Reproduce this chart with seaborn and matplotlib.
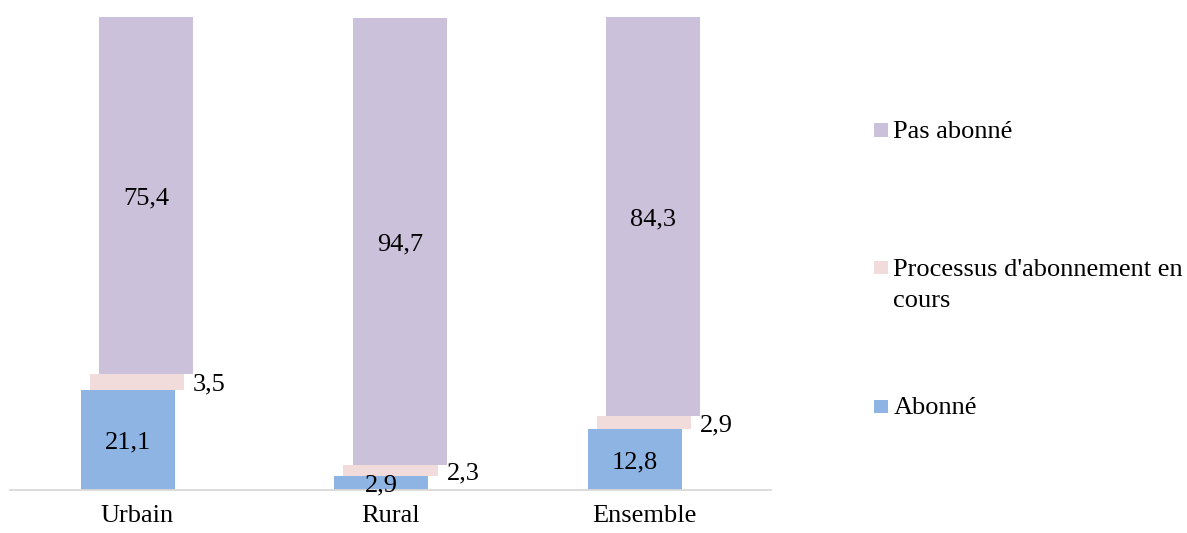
import numpy as np
import matplotlib
matplotlib.use("Agg")
import matplotlib.pyplot as plt
from matplotlib.patches import Rectangle
import seaborn as sns

# ---- data ----
categories = ["Urbain", "Rural", "Ensemble"]
series_names = ["Abonné", "Processus d'abonnement en cours", "Pas abonné"]
abonne = [21.1, 2.9, 12.8]
processus = [3.5, 2.3, 2.9]
pas_abonne = [75.4, 94.7, 84.3]
legend_labels = ["Pas abonné", "Processus d'abonnement en\ncours", "Abonné"]

# ---- style ----
sns.set_theme(style="white")
plt.rcParams["font.family"] = ["Liberation Serif", "DejaVu Serif"]
FS = 19
colors = {"Abonné": "#8EB4E3", "Processus": "#F2DCDB", "Pas": "#CCC1DA"}

W, H = 1187, 533
fig = plt.figure(figsize=(W / 100, H / 100), dpi=100)
ax = fig.add_axes([10.25 / W, 43 / H, 760.5 / W, 472.7 / H])

idx = np.arange(len(categories))
bar_w = 0.371
shift = 0.0367

series = [
    (abonne, colors["Abonné"], -shift),
    (processus, colors["Processus"], 0.0),
    (pas_abonne, colors["Pas"], shift),
]

bottom = np.zeros(len(categories))
for vals, col, off in series:
    vals = np.asarray(vals, dtype=float)
    sns.barplot(x=idx + off, y=vals, native_scale=True, width=bar_w,
                color=col, saturation=1, errorbar=None, bottom=bottom.copy(),
                linewidth=0, ax=ax)
    bottom = bottom + vals

def fmt(v):
    return f"{v:.1f}".replace(".", ",")

# labels
for i in idx:
    # Abonné: centered
    ax.text(i - shift, abonne[i] / 2, fmt(abonne[i]), ha="center",
            va="center_baseline", fontsize=FS, color="black", zorder=6)
    # Processus: right of bar
    yc = abonne[i] + processus[i] / 2
    ax.annotate(fmt(processus[i]), xy=(i + bar_w / 2, yc), xytext=(9, 0),
                textcoords="offset pixels", ha="left", va="center_baseline",
                fontsize=FS, color="black")
    # Pas abonné: centered
    yp = abonne[i] + processus[i] + pas_abonne[i] / 2
    ax.text(i + shift, yp, fmt(pas_abonne[i]), ha="center",
            va="center_baseline", fontsize=FS, color="black")

ax.set_xlim(-0.5, len(categories) - 0.5)
ax.set_ylim(0, 100)
ax.set_xticks(idx)
ax.set_xticklabels(categories, fontsize=FS)
ax.set_yticks([])
ax.tick_params(axis="x", length=0, pad=11, colors="black")
ax.set_xlabel("")
ax.set_ylabel("")
for s in ["top", "left", "right"]:
    ax.spines[s].set_visible(False)
ax.spines["bottom"].set_color("#D9D9D9")
ax.spines["bottom"].set_linewidth(1.3)
ax.spines["bottom"].set_zorder(5)
ax.set_facecolor("white")

# ---- legend (manual, handle aligned with first line) ----
leg_colors = [colors["Pas"], colors["Processus"], colors["Abonné"]]
sq_tops = [123.3, 261.0, 400.0]
last_baselines = [137.7, 306.7, 414.0]
for lab, col, top, base in zip(legend_labels, leg_colors, sq_tops, last_baselines):
    fig.add_artist(Rectangle((874 / W, 1 - (top + 13.4) / H), 14 / W, 13.4 / H,
                             transform=fig.transFigure, facecolor=col,
                             edgecolor="none"))
    fig.text(893.3 / W, 1 - base / H, lab, ha="left", va="baseline",
             fontsize=FS, color="black", linespacing=1.5)

fig.savefig("out.png", dpi=100, facecolor="white")
